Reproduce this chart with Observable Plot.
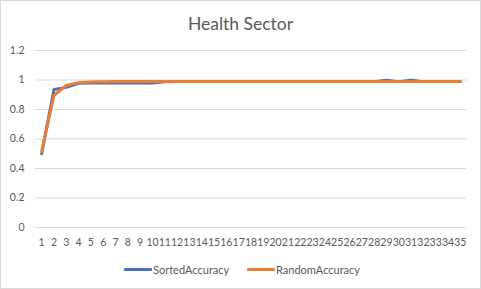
<!DOCTYPE html>
<html>
<head>
<meta charset="utf-8">
<script src="https://cdn.jsdelivr.net/npm/d3@7"></script>
<script src="https://cdn.jsdelivr.net/npm/@observablehq/plot@0.6"></script>
<style>
  html, body { margin: 0; padding: 0; background: #fff; }
  #wrap { position: relative; width: 481px; height: 289px; overflow: hidden; font-family: Lato, "Open Sans", sans-serif; color: #595959; }
  #border { position: absolute; left: 0; top: 0; width: 481px; height: 289px; box-sizing: border-box; border: 1px solid #d9d9d9; pointer-events: none; }
  #title { position: absolute; left: 0; top: 15px; width: 481px; text-align: center; font-size: 17.5px; line-height: 18px; white-space: nowrap; }
  #chart { position: absolute; left: 0; top: 40px; }
  .leg { position: absolute; top: 262px; height: 14px; display: flex; align-items: center; font-size: 11px; white-space: nowrap; }
  .sw { width: 28px; height: 3px; margin-right: 1px; border-radius: 1px; }
</style>
</head>
<body>
<div id="wrap">
  <div id="title">Health Sector</div>
  <div id="chart"></div>
  <div class="leg" style="left:124px"><span class="sw" style="background:#4472C4"></span>SortedAccuracy</div>
  <div class="leg" style="left:247px"><span class="sw" style="background:#ED7D31"></span>RandomAccuracy</div>
  <div id="border"></div>
</div>
<script>
const categories = [1,2,3,4,5,6,7,8,9,10,11,12,13,14,15,16,17,18,19,20,21,22,23,24,25,26,27,28,29,30,31,32,33,34,35];
const sortedAccuracy = [0.50,0.935,0.95,0.978,0.979,0.979,0.979,0.98,0.98,0.98,0.988,0.989,0.989,0.989,0.989,0.989,0.989,0.989,0.989,0.989,0.989,0.989,0.989,0.989,0.989,0.989,0.989,0.989,0.998,0.989,0.998,0.989,0.989,0.989,0.989];
const randomAccuracy = [0.515,0.895,0.963,0.982,0.987,0.988,0.989,0.989,0.989,0.989,0.989,0.989,0.989,0.989,0.989,0.989,0.989,0.989,0.989,0.989,0.989,0.989,0.989,0.989,0.989,0.989,0.989,0.989,0.989,0.989,0.989,0.989,0.989,0.989,0.989];
const yTicks = [0, 0.2, 0.4, 0.6, 0.8, 1, 1.2];
const seriesNames = ["SortedAccuracy", "RandomAccuracy"];
const seriesColors = ["#4472C4", "#ED7D31"];

const rows = [];
categories.forEach((c, i) => {
  rows.push({x: c, y: sortedAccuracy[i], s: seriesNames[0]});
});
categories.forEach((c, i) => {
  rows.push({x: c, y: randomAccuracy[i], s: seriesNames[1]});
});

const chart = Plot.plot({
  width: 481,
  height: 210,
  marginLeft: 35,
  marginRight: 15,
  marginTop: 10,
  marginBottom: 23,
  style: { fontFamily: "Lato, 'Open Sans', sans-serif", fontSize: "10.5px", color: "#595959", background: "transparent" },
  x: { type: "point", domain: categories, padding: 0.5, round: false, label: null },
  y: { domain: [0, 1.2], label: null },
  color: { domain: seriesNames, range: seriesColors },
  marks: [
    Plot.gridY(yTicks, { stroke: "#d9d9d9", strokeOpacity: 1, strokeWidth: 1 }),
    Plot.axisY({ ticks: yTicks, tickSize: 0, tickPadding: 11, tickFormat: d => String(+d.toFixed(1)), fill: "#595959", label: null }),
    Plot.axisX({ tickSize: 0, tickPadding: 11, fill: "#595959", label: null }),
    Plot.line(rows, { x: "x", y: "y", z: "s", stroke: "s", strokeWidth: 3, strokeLinejoin: "round", strokeLinecap: "round" })
  ]
});
document.getElementById("chart").appendChild(chart);
</script>
</body>
</html>
